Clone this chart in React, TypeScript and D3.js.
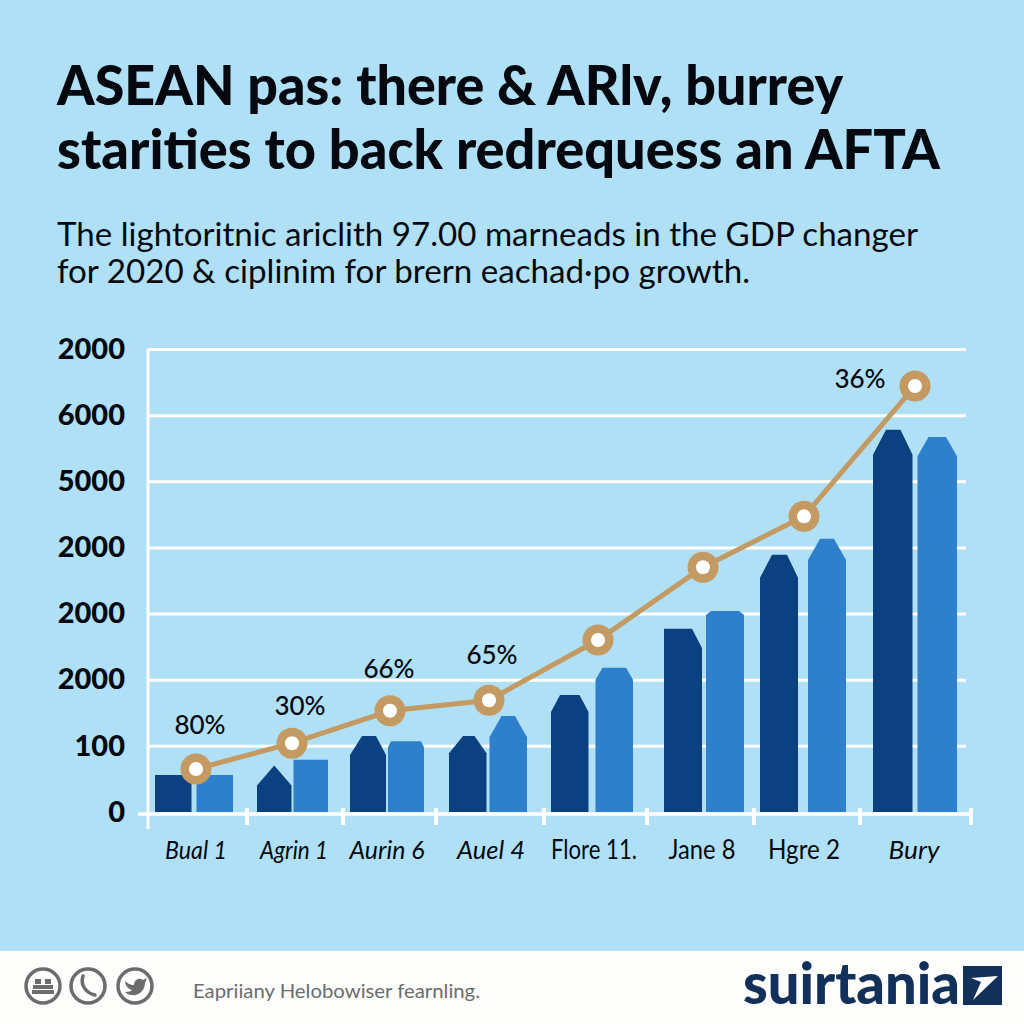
import React, { useEffect, useRef } from "react";
import * as d3 from "d3";

// chart values. bar heights are in gridline steps
const categories = ["Bual 1", "Agrin 1", "Aurin 6", "Auel 4", "Flore 11.", "Jane 8", "Hgre 2", "Bury"];
const italicCategories = ["Bual 1", "Agrin 1", "Aurin 6", "Auel 4", "Bury"];
const yTickLabels = ["0", "100", "2000", "2000", "2000", "5000", "6000", "2000"];

const darkValues = [0.56, 0.7, 1.15, 1.15, 1.77, 2.77, 3.89, 5.78];
const darkShoulders = [0.56, 0.4, 0.86, 0.89, 1.51, 2.48, 3.54, 5.4];
const blueValues = [0.56, 0.79, 1.07, 1.45, 2.18, 3.04, 4.13, 5.67];
const blueShoulders = [0.56, 0.79, 0.98, 1.13, 2.0, 2.98, 3.81, 5.38];
const lineValues = [0.65, 1.04, 1.53, 1.69, 2.6, 3.7, 4.47, 6.44];
const pointLabels = ["80%", "30%", "66%", "65%", "", "", "", "36%"];

const titleLines = ["ASEAN pas: there & ARlv, burrey", "starities to back redrequess an AFTA"];
const subtitleLines = [
  "The lightoritnic ariclith 97.00 marneads in the GDP changer",
  "for 2020 & ciplinim for brern eachad·po growth.",
];
const footerText = "Eapriiany Helobowiser fearnling.";
const brandName = "suirtania";

const BG = "#b0e0f6";
const DARK = "#0b4180";
const BLUE = "#2f80cc";
const TAN = "#c49a63";
const INK = "#05090f";
const NAVY = "#12305a";
const GREY = "#6c6c6c";
const FONT = "Lato, sans-serif";

export default function App() {
  const svgRef = useRef<SVGSVGElement>(null);

  useEffect(() => {
    const svg = d3.select(svgRef.current);
    svg.selectAll("*").remove();

    svg.append("rect").attr("width", 1024).attr("height", 1024).attr("fill", BG);

    // heading
    const lines = [
      { t: titleLines[0], y: 105, s: 56, w: 900, len: 786 },
      { t: titleLines[1], y: 169, s: 56, w: 900, len: 883 },
      { t: subtitleLines[0], y: 246, s: 33, w: 400, len: 861 },
      { t: subtitleLines[1], y: 283, s: 33, w: 400, len: 693 },
    ];
    svg.selectAll("text.head").data(lines).enter().append("text")
      .attr("class", "head")
      .attr("x", 57).attr("y", (d) => d.y)
      .attr("font-family", FONT)
      .attr("font-size", (d) => d.s)
      .attr("font-weight", (d) => d.w)
      .attr("fill", INK)
      .attr("textLength", (d) => d.len)
      .attr("lengthAdjust", "spacingAndGlyphs")
      .text((d) => d.t);

    // scales. groups are not evenly spaced in the picture so these are ordinal
    const y = d3.scaleLinear().domain([0, 7]).range([812, 349]);
    const cx = d3.scaleOrdinal<string, number>().domain(categories)
      .range([194, 292.5, 387, 488, 592, 704, 803, 915]);
    const pointX = d3.scaleOrdinal<string, number>().domain(categories)
      .range([196, 292, 390, 489, 598, 703, 804, 915]);
    const labelX = d3.scaleOrdinal<string, number>().domain(categories)
      .range([196, 294, 387, 491, 594, 702, 804, 914]);
    const labelW = d3.scaleOrdinal<string, number>().domain(categories)
      .range([62, 68, 75, 68, 86, 67, 72, 51]);
    const groupW = d3.scaleOrdinal<string, number>().domain(categories)
      .range([78, 71, 74, 78, 82, 80, 86, 84]);
    const gap = d3.scaleOrdinal<string, number>().domain(categories)
      .range([5, 2, 2, 3, 7, 4, 10, 5]);

    // chamfer of the bar tops, in px
    const darkInL = [0, 17, 12, 14, 9, 0, 12, 13];
    const darkInR = [0, 17, 10, 12, 9, 10, 11, 12];
    const blueIn = [0, 0, 3, 12, 7, 5, 12, 11];

    // gridlines
    const grid = svg.append("g")
      .attr("transform", "translate(148,0)")
      .call(d3.axisLeft(y).tickValues(d3.range(1, 8)).tickSize(-818).tickFormat(() => ""));
    grid.select(".domain").remove();
    grid.selectAll("line").attr("stroke", "#fff").attr("stroke-width", 3);

    // y axis labels
    const yAxis = svg.append("g")
      .attr("transform", "translate(148,0)")
      .call(
        d3.axisLeft(y).tickValues(d3.range(0, 8)).tickSize(0).tickPadding(23)
          .tickFormat((d) => yTickLabels[d as number])
      );
    yAxis.select(".domain").remove();
    yAxis.selectAll("text")
      .attr("font-family", FONT).attr("font-size", 29).attr("font-weight", 900).attr("fill", INK);

    // bars
    const barPath = (x0: number, x1: number, top: number, shoulder: number, inL: number, inR: number) => {
      const p = d3.path();
      p.moveTo(x0, y(0));
      p.lineTo(x0, y(shoulder));
      p.lineTo(x0 + inL, y(top));
      p.lineTo(x1 - inR, y(top));
      p.lineTo(x1, y(shoulder));
      p.lineTo(x1, y(0));
      p.closePath();
      return p.toString();
    };

    svg.append("g").selectAll("path").data(categories).enter().append("path")
      .attr("fill", DARK)
      .attr("d", (c, i) =>
        barPath(cx(c) - groupW(c) / 2, cx(c) - gap(c) / 2, darkValues[i], darkShoulders[i], darkInL[i], darkInR[i]));
    svg.append("g").selectAll("path").data(categories).enter().append("path")
      .attr("fill", BLUE)
      .attr("d", (c, i) =>
        barPath(cx(c) + gap(c) / 2, cx(c) + groupW(c) / 2, blueValues[i], blueShoulders[i], blueIn[i], blueIn[i]));

    // axis lines on top of the bars
    svg.append("line").attr("x1", 148).attr("x2", 148).attr("y1", 349).attr("y2", 829)
      .attr("stroke", "#fff").attr("stroke-width", 3);
    svg.append("line").attr("x1", 138).attr("x2", 972).attr("y1", 814).attr("y2", 814)
      .attr("stroke", "#fff").attr("stroke-width", 3.5);
    const tickX = d3.scaleOrdinal<string, number>().domain(categories)
      .range([247, 343, 436, 544, 647, 754, 860, 971]);
    svg.append("g").selectAll("line").data(categories).enter().append("line")
      .attr("x1", (c) => tickX(c)).attr("x2", (c) => tickX(c))
      .attr("y1", 808).attr("y2", 825)
      .attr("stroke", "#fff").attr("stroke-width", 4);

    // category labels
    svg.append("g").selectAll("text").data(categories).enter().append("text")
      .attr("x", (c) => labelX(c)).attr("y", 859)
      .attr("text-anchor", "middle")
      .attr("font-family", FONT).attr("font-size", 26)
      .attr("font-style", (c) => (italicCategories.includes(c) ? "italic" : "normal"))
      .attr("fill", INK)
      .attr("textLength", (c) => labelW(c))
      .attr("lengthAdjust", "spacingAndGlyphs")
      .text((c) => c);

    // line + markers
    const line = d3.line<string>()
      .x((c) => pointX(c))
      .y((c) => y(lineValues[categories.indexOf(c)]));
    svg.append("path").attr("d", line(categories)).attr("fill", "none")
      .attr("stroke", TAN).attr("stroke-width", 5);
    const pts = svg.append("g").selectAll("g").data(categories).enter().append("g")
      .attr("transform", (c, i) => `translate(${pointX(c)},${y(lineValues[i])})`);
    pts.append("circle").attr("r", 15.5).attr("fill", TAN);
    pts.append("circle").attr("r", 7).attr("fill", "#fff");

    const labelOffset = [[4, -35], [8, -28], [-1, -33], [3, -36], [0, 0], [0, 0], [0, 0], [-55, 2]];
    pts.append("text")
      .attr("x", (c, i) => labelOffset[i][0]).attr("y", (c, i) => labelOffset[i][1])
      .attr("text-anchor", "middle")
      .attr("font-family", FONT).attr("font-size", 26).attr("font-weight", 500)
      .attr("fill", INK)
      .text((c, i) => pointLabels[i]);

    // footer band
    svg.append("rect").attr("y", 951).attr("width", 1024).attr("height", 73).attr("fill", "#fdfdfb");
    const icons = svg.append("g").selectAll("g").data([43, 88, 135]).enter().append("g")
      .attr("transform", (d) => `translate(${d},986)`);
    icons.append("circle").attr("r", 17).attr("fill", "none").attr("stroke", GREY).attr("stroke-width", 3.5);

    // first icon, a small bed like block
    const bed = svg.append("g").attr("fill", GREY).attr("transform", "translate(43,986)");
    bed.append("rect").attr("x", -10).attr("y", -1).attr("width", 20).attr("height", 4);
    bed.append("rect").attr("x", -11).attr("y", 4).attr("width", 22).attr("height", 4);
    bed.append("rect").attr("x", -8).attr("y", -7).attr("width", 6).attr("height", 5);
    bed.append("rect").attr("x", 2).attr("y", -7).attr("width", 6).attr("height", 5);
    // phone
    svg.append("path").attr("transform", "translate(88,986)")
      .attr("d", "M-5,-10 C-8,-1 -2,7 7,9")
      .attr("fill", "none").attr("stroke", GREY).attr("stroke-width", 3.5).attr("stroke-linecap", "round");
    // bird
    svg.append("path").attr("transform", "translate(135,986)")
      .attr("d", "M-10,-5 C-6,-1 -3,-1 -1,-1 C-1,-6 4,-9 8,-6 L12,-8 L10,-3 C10,5 3,10 -3,9 C-6,9 -9,7 -10,6 C-6,6 -4,5 -3,4 C-7,3 -10,-1 -10,-5 Z")
      .attr("fill", GREY);

    svg.append("text").attr("x", 193).attr("y", 998)
      .attr("font-family", FONT).attr("font-size", 20).attr("fill", GREY)
      .attr("textLength", 287).attr("lengthAdjust", "spacingAndGlyphs")
      .text(footerText);

    svg.append("text").attr("x", 743).attr("y", 1004)
      .attr("font-family", FONT).attr("font-size", 58).attr("font-weight", 900).attr("fill", NAVY)
      .attr("textLength", 217).attr("lengthAdjust", "spacingAndGlyphs")
      .text(brandName);
    svg.append("rect").attr("x", 963).attr("y", 966).attr("width", 39).attr("height", 39).attr("fill", NAVY);
    svg.append("path").attr("d", "M971,978 L998,976 L973,1000 L981,982 Z").attr("fill", "#fff");
  }, []);

  return (
    <svg
      ref={svgRef}
      width={1024}
      height={1024}
      viewBox="0 0 1024 1024"
      style={{ position: "fixed", left: 0, top: 0, display: "block" }}
    />
  );
}
